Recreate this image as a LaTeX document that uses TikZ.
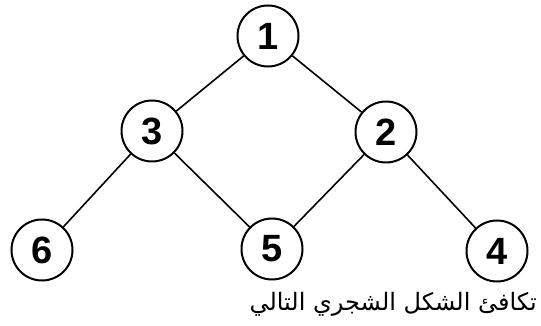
\documentclass[tikz,border=0pt]{standalone}
\usepackage{fontspec}
\setmainfont{Liberation Sans}
\newfontfamily\arabicfont[Script=Arabic]{DejaVu Sans}
\TeXXeTstate=1
\begin{document}
\begin{tikzpicture}[
  x=1pt, y=1pt,
  tnode/.style={circle, draw=black, line width=2pt, inner sep=0pt, minimum size=61pt, font=\fontsize{38}{38}\selectfont\bfseries},
  edge/.style={line width=1.6pt, draw=black}
]
  \useasboundingbox (0,0) rectangle (541,326);

  % raiz, segundo nivel, hojas
  \node[tnode] (n1) at (268,290) {1};
  \node[tnode] (n3) at (152,195) {3};
  \node[tnode] (n2) at (386,194) {2};
  \node[tnode] (n6) at (42,76) {6};
  \node[tnode] (n5) at (272,77) {5};
  \node[tnode] (n4) at (497,75) {4};

  % Aristas
  \draw[edge] (n1) -- (n3); \draw[edge] (n1) -- (n2);
  \draw[edge] (n3) -- (n6); \draw[edge] (n3) -- (n5);
  \draw[edge] (n2) -- (n5); \draw[edge] (n2) -- (n4);

  % Etiqueta
  \node[anchor=base east, inner sep=0pt, font=\fontsize{24}{24}\selectfont] (cap) at (537,15) {\arabicfont\beginR تكافئ الشكل الشجري التالي\endR};
\end{tikzpicture}
\end{document}
